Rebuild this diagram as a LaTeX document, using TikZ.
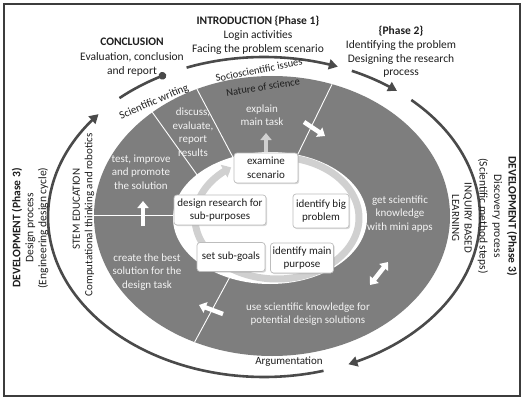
\documentclass[tikz,border=0pt]{standalone}
\usepackage{fontspec}
\setmainfont{Carlito}
\usetikzlibrary{arrows.meta,shadows}
\definecolor{ringgray}{HTML}{4A4A4A}
\definecolor{discgray}{HTML}{7E7E7E}
\definecolor{lightring}{HTML}{D0D0D0}
\definecolor{boxline}{HTML}{BDBDBD}
\definecolor{txtdark}{HTML}{1E1E1E}
\definecolor{txtlight}{HTML}{F4F4F4}
\definecolor{framecol}{HTML}{3C3C3C}
\begin{document}
\begin{tikzpicture}[x=1pt,y=-1pt,
  every node/.style={font=\fontsize{11}{13.5}\selectfont, align=center, inner sep=0pt, text=txtdark},
  bigtext/.style={font=\fontsize{11.5}{13.8}\selectfont},
  outerarc/.style={line width=2.6pt, ringgray},
  tipc/.style={-{Triangle[length=9pt,width=10pt]}},
  stepbox/.style={draw=boxline, fill=white, rounded corners=3pt, line width=0.7pt,
     drop shadow={shadow xshift=1.2pt, shadow yshift=-1.2pt, opacity=0.3}},
  graytext/.style={text=txtlight},
  divider/.style={white, line width=0.9pt},
  blockarrow/.style={line width=4.5pt, white, -{Triangle[length=7pt,width=11pt]}},
  dblarrow/.style={line width=4.5pt, white, {Triangle[length=7pt,width=11pt]}-{Triangle[length=7pt,width=11pt]}}
]
\useasboundingbox (0,0) rectangle (524,401);
\draw[framecol, line width=2pt] (4,4) rectangle (520,396);

% gray disc
\fill[discgray] (272,216) ellipse [x radius=178pt, y radius=140pt];
\begin{scope}
  \clip (272,216) ellipse [x radius=178pt, y radius=140pt];
  \coordinate (d1a) at (236,163); \coordinate (d1b) at (190,76);
  \coordinate (d2a) at (200,179); \coordinate (d2b) at (145,102);
  \coordinate (d3a) at (180,215); \coordinate (d3b) at (80,215);
  \coordinate (d4a) at (232,273); \coordinate (d4b) at (186,358);
  \coordinate (d5a) at (295,160); \coordinate (d5b) at (338,72);
  \draw[divider] (d1a) -- (d1b);
  \draw[divider] (d2a) -- (d2b);
  \draw[divider] (d3a) -- (d3b);
  \draw[divider] (d4a) -- (d4b);
  \draw[divider] (d5a) -- (d5b);
\end{scope}
\fill[white] (270,218) ellipse [x radius=97pt, y radius=66pt];

% inner cycle ring
\draw[lightring, line width=7pt, -{Triangle[length=8pt,width=14pt]}]
  plot[domain=-85:236, samples=120] ({277+82*cos(\x)},{218+61*sin(\x)});

% boxes
\node[stepbox, minimum width=64pt, minimum height=30pt] (ex) at (266,168) {examine\\scenario};
\node[stepbox, minimum width=56pt, minimum height=34pt] (ibp) at (321,211) {identify big\\problem};
\node[stepbox, minimum width=92pt, minimum height=30pt] (drs) at (220,210) {design research for\\sub-purposes};
\node[stepbox, minimum width=68pt, minimum height=29pt] (ssg) at (231,257) {set sub-goals};
\node[stepbox, minimum width=63pt, minimum height=30pt] (imp) at (302,258) {identify main\\purpose};

% texts in gray area
\node[graytext] (t1) at (262,115) {explain\\main task};
\node[graytext] (t2) at (193,132) {discuss,\\evaluate,\\report\\results};
\node[graytext] (t3) at (141,172) {test, improve\\and promote\\the solution};
\node[graytext] (t4) at (147,272) {create the best\\solution for the\\design task};
\node[graytext] (t5) at (308,314) {use scientific knowledge for\\potential design solutions};
\node[graytext] (t6) at (400,214) {get scientific\\knowledge\\with mini apps};

% block arrows
\coordinate (ua1) at (266,152); \coordinate (ua2) at (266,133);
\draw[line width=4.5pt, lightring, -{Triangle[length=7pt,width=11pt]}] (ua1) -- (ua2);
\coordinate (ra1) at (304,122); \coordinate (ra2) at (325,136);
\draw[blockarrow] (ra1) -- (ra2);
\coordinate (da1) at (370,285); \coordinate (da2) at (388,262);
\draw[dblarrow] (da1) -- (da2);
\coordinate (la1) at (223,314); \coordinate (la2) at (199,305);
\draw[blockarrow] (la1) -- (la2);
\coordinate (pa1) at (143,226); \coordinate (pa2) at (143,201);
\draw[blockarrow] (pa1) -- (pa2);

% outer ring arcs
\draw[outerarc, tipc] plot[domain=74:220, samples=100] ({264+216*cos(\x)},{217+160*sin(\x)});
\draw[outerarc, -{Circle[length=7.5pt]}] plot[domain=228:243, samples=20] ({264+216*cos(\x)},{217+160*sin(\x)});
\draw[outerarc, tipc] plot[domain=249:290, samples=40] ({264+216*cos(\x)},{217+160*sin(\x)});
\draw[outerarc, tipc] plot[domain=294:308, samples=20] ({264+216*cos(\x)},{217+160*sin(\x)});
\draw[outerarc, tipc] plot[domain=313:427, samples=100] ({264+216*cos(\x)},{217+160*sin(\x)});

% band texts
\node[rotate=23] (sw) at (154,102) {Scientific writing};
\node[rotate=11, font=\fontsize{10.5}{12}\selectfont] (ssi) at (259,70) {Socioscientific issues};
\node[rotate=9, font=\fontsize{10.5}{12}\selectfont] (nos) at (263,87) {Nature of science};
\node (arg) at (289,362) {Argumentation};
\node[rotate=90, font=\fontsize{11}{12.5}\selectfont] (stem) at (83.5,215) {\hspace*{12pt}STEM EDUCATION\\Computational thinking and robotics};
\node[rotate=-90, font=\fontsize{11}{12.5}\selectfont] (ibl) at (462,218) {INQUIRY BASED\\LEARNING};

% outer texts
\node[bigtext] (intro) at (258,35.5) {\textbf{INTRODUCTION \{Phase 1\}}\\Login activities\\Facing the problem scenario};
\node[bigtext, font=\fontsize{11.5}{14.5}\selectfont] (concl) at (132,57.5) {\textbf{CONCLUSION}\\Evaluation, conclusion\\and report};
\node[bigtext] (ph2) at (401,52) {\textbf{\{Phase 2\}}\\Identifying the problem\\Designing the research\\process};
\node[rotate=90, font=\fontsize{11.5}{13}\selectfont] (devl) at (30,228) {\textbf{DEVELOPMENT (Phase 3)}\\Design process\\(Engineering design cycle)};
\node[rotate=-90, font=\fontsize{11.5}{14.5}\selectfont] (devr) at (497.5,216) {\textbf{DEVELOPMENT (Phase 3)}\\Discovery process\\(Scientific method steps)};
\end{tikzpicture}
\end{document}
